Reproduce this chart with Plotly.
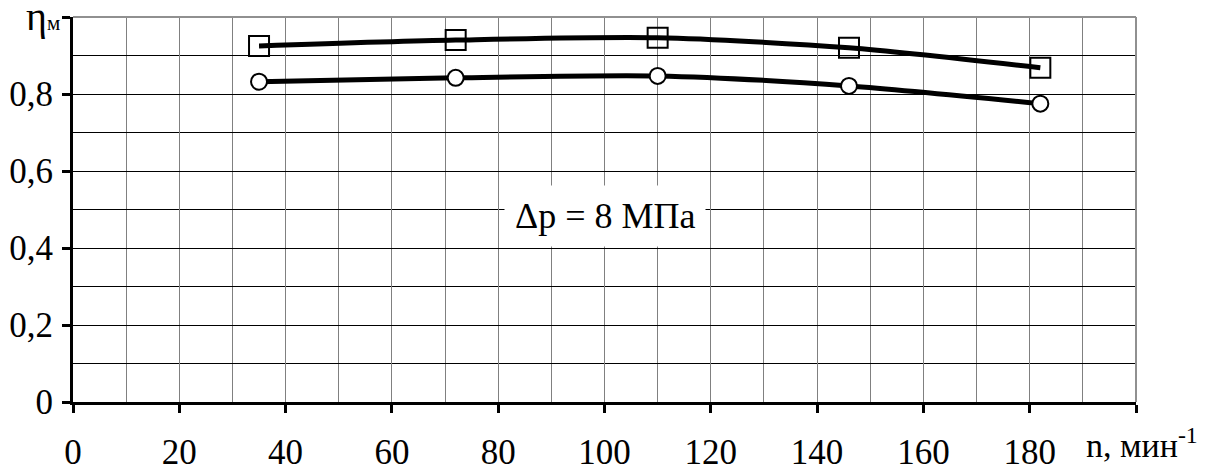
import plotly.graph_objects as go

n_vals = [35, 72, 110, 146, 182]
eta_square = [0.925, 0.940, 0.946, 0.920, 0.868]
eta_circle = [0.832, 0.842, 0.847, 0.821, 0.775]

x_tickvals = [0, 20, 40, 60, 80, 100, 120, 140, 160, 180, 200]
x_ticktext = ["0", "20", "40", "60", "80", "100", "120", "140", "160", "180", ""]
y_tickvals = [0, 0.2, 0.4, 0.6, 0.8, 1.0]
y_ticktext = ["0", "0,2", "0,4", "0,6", "0,8", ""]

FONT = "Liberation Serif"

fig = go.Figure()
fig.add_trace(go.Scatter(
    x=n_vals, y=eta_square, mode="lines+markers",
    line=dict(color="black", width=5, shape="spline", smoothing=0.8),
    marker=dict(symbol="square-open", size=20, color="black", line=dict(width=2, color="black")),
    showlegend=False))
fig.add_trace(go.Scatter(
    x=n_vals, y=eta_circle, mode="lines+markers",
    line=dict(color="black", width=5, shape="spline", smoothing=0.8),
    marker=dict(symbol="circle", size=16, color="white", line=dict(width=2, color="black")),
    showlegend=False))

fig.update_layout(
    width=1213, height=466,
    margin=dict(l=65, r=85, t=9, b=72),
    paper_bgcolor="white", plot_bgcolor="white",
    font=dict(family=FONT, size=35, color="black"),
    xaxis=dict(
        range=[0, 200], tickmode="array", tickvals=x_tickvals, ticktext=x_ticktext,
        showline=True, linecolor="black", linewidth=3,
        ticks="outside", ticklen=8, tickwidth=3, tickcolor="black",
        ticklabelstandoff=9, automargin=False,
        tickfont=dict(family=FONT, size=35, color="black"),
        showgrid=True, gridcolor="#808080", gridwidth=1,
        minor=dict(dtick=10, showgrid=True, gridcolor="#808080", gridwidth=1, ticks=""),
        zeroline=False,
    ),
    yaxis=dict(
        range=[0, 1.0], tickmode="array", tickvals=y_tickvals, ticktext=y_ticktext,
        showline=True, linecolor="black", linewidth=3,
        ticks="outside", ticklen=8, tickwidth=3, tickcolor="black",
        ticklabelstandoff=2, automargin=False,
        tickfont=dict(family=FONT, size=35, color="black"),
        showgrid=True, gridcolor="black", gridwidth=1,
        minor=dict(dtick=0.1, showgrid=True, gridcolor="black", gridwidth=1, ticks=""),
        zeroline=False,
    ),
)

# top and right frame
fig.add_shape(type="line", xref="paper", yref="paper", x0=0, x1=1, y0=1, y1=1,
              line=dict(color="#909090", width=2))
fig.add_shape(type="line", xref="paper", yref="paper", x0=1, x1=1, y0=0, y1=1,
              line=dict(color="#909090", width=2))

fig.add_annotation(x=100, y=0.482, xref="x", yref="y", text="Δp = 8 МПа",
                   showarrow=False, bgcolor="white", borderpad=10,
                   font=dict(family=FONT, size=36, color="black"))
fig.add_annotation(x=0, y=1.0, xref="paper", yref="y", xanchor="right", yanchor="middle",
                   xshift=-11, yshift=1,
                   text="η<span style='font-size:21px'>м</span>", showarrow=False,
                   font=dict(family=FONT, size=40, color="black"))
fig.add_annotation(x=200, y=0, xref="x", yref="paper", xanchor="center", yanchor="top",
                   xshift=6, yshift=-18,
                   text="n, мин<sup>-1</sup>", showarrow=False,
                   font=dict(family=FONT, size=34, color="black"))

fig.write_html("out.html")
